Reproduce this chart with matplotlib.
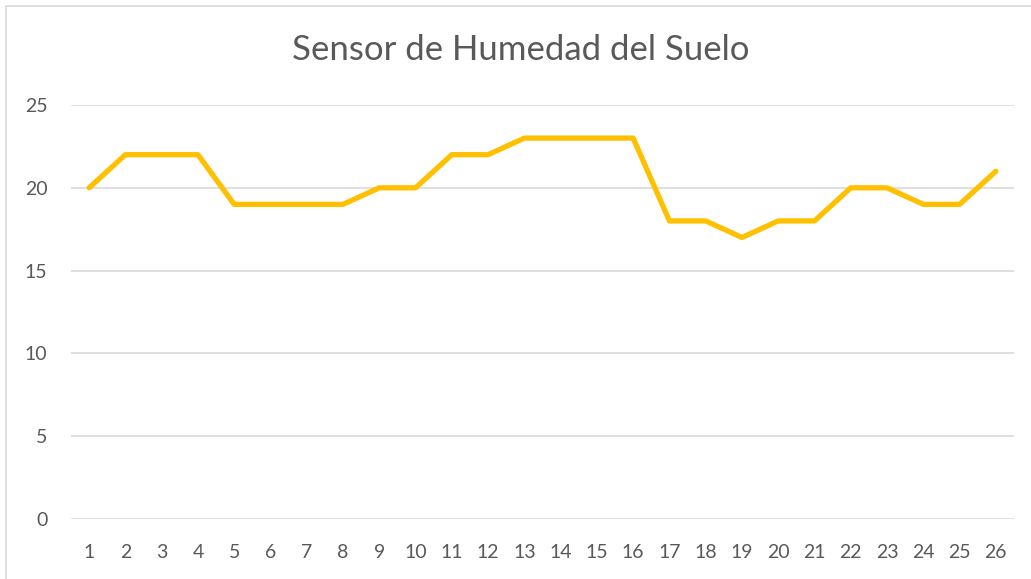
import matplotlib.pyplot as plt
from matplotlib.patches import Rectangle

# lecturas del sensor
muestras = list(range(1, 27))
humedad = [20, 22, 22, 22, 19, 19, 19, 19, 20, 20, 22, 22, 23,
           23, 23, 23, 18, 18, 17, 18, 18, 20, 20, 19, 19, 21]
marcas_y = [0, 5, 10, 15, 20, 25]

plt.rcParams['font.family'] = ['Lato', 'DejaVu Sans']

W, H = 1031, 579
fig = plt.figure(figsize=(W / 100, H / 100), dpi=100)
fig.patch.set_facecolor('white')

# marco gris del grafico
fig.patches.append(Rectangle((6 / W, -0.1), 1.2, 1 - 6 / H + 0.1,
                             transform=fig.transFigure, fill=False,
                             edgecolor='#D9D9D9', linewidth=1.2))

ax = fig.add_axes([71 / W, (H - 519) / H, (1014 - 71) / W, (519 - 105) / H])
ax.plot(muestras, humedad, color='#FFC000', linewidth=3.8,
        solid_joinstyle='round', solid_capstyle='round', zorder=3)

ax.set_xlim(0.5, 26.5)
ax.set_ylim(0, 25)
ax.set_xticks(muestras)
ax.set_yticks(marcas_y)
ax.grid(axis='y', color='#D9D9D9', linewidth=1.2)
ax.set_axisbelow(True)
for s in ax.spines.values():
    s.set_visible(False)
ax.tick_params(length=0, labelsize=14, colors='#595959')
ax.tick_params(axis='y', pad=17)
ax.tick_params(axis='x', pad=18)

fig.text(0.505, 1 - 50 / H, 'Sensor de Humedad del Suelo', ha='center',
         va='center', fontsize=25, color='#595959')

fig.savefig('out.png', dpi=100)
